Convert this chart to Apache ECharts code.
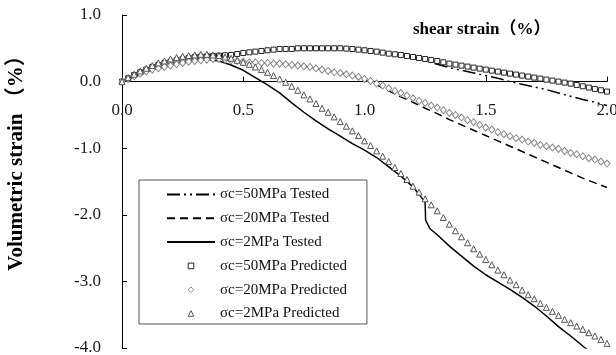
<!DOCTYPE html>
<html>
<head>
<meta charset="utf-8">
<script src="https://cdn.jsdelivr.net/npm/echarts@6/dist/echarts.min.js"></script>
<style>
html,body{margin:0;padding:0;background:#fff;}
#chart{width:616px;height:355px;}
</style>
</head>
<body>
<div id="chart"></div>
<script>
// ---- Data ----
const seriesNames = [
  'σc=50MPa Tested', 'σc=20MPa Tested', 'σc=2MPa Tested',
  'σc=50MPa Predicted', 'σc=20MPa Predicted', 'σc=2MPa Predicted'
];
const xTicks = [0, 0.5, 1.0, 1.5, 2.0];
const yTicks = [-4, -3, -2, -1, 0, 1];
const xName = 'shear strain（%）';
const yName = 'Volumetric strain （%）';

// Tested curves (shear strain %, volumetric strain %)
const xTested = [0, 0.05, 0.1, 0.15, 0.2, 0.25, 0.3, 0.35, 0.4, 0.45, 0.5, 0.55, 0.6, 0.65, 0.7, 0.75, 0.8, 0.85, 0.9, 0.95, 1.0,
  1.05, 1.1, 1.15, 1.2, 1.25, 1.3, 1.35, 1.4, 1.45, 1.5, 1.55, 1.6, 1.65, 1.7, 1.75, 1.8, 1.85, 1.9, 1.95, 2.0];
const tested50 = [0, 0.1, 0.18, 0.25, 0.3, 0.34, 0.37, 0.38, 0.39, 0.4, 0.43, 0.45, 0.47, 0.49, 0.49, 0.5, 0.5, 0.5, 0.5, 0.49, 0.47,
  0.45, 0.42, 0.39, 0.35, 0.31, 0.26, 0.21, 0.17, 0.13, 0.09, 0.05, 0.0, -0.04, -0.08, -0.12, -0.17, -0.22, -0.27, -0.31, -0.36];
const tested20 = [0, 0.08, 0.15, 0.2, 0.24, 0.28, 0.31, 0.33, 0.34, 0.32, 0.3, 0.29, 0.28, 0.27, 0.25, 0.23, 0.2, 0.16, 0.13, 0.09, 0.03,
  -0.05, -0.14, -0.23, -0.31, -0.4, -0.48, -0.57, -0.65, -0.73, -0.81, -0.89, -0.97, -1.05, -1.13, -1.21, -1.29, -1.37, -1.45, -1.52, -1.59];
const xTested2 = [0, 0.05, 0.1, 0.15, 0.2, 0.25, 0.3, 0.35, 0.4, 0.45, 0.5, 0.55, 0.6, 0.65, 0.7, 0.75, 0.8, 0.85, 0.9, 0.95, 1.0,
  1.05, 1.1, 1.15, 1.2, 1.25, 1.252, 1.27, 1.3, 1.35, 1.4, 1.45, 1.5, 1.55, 1.6, 1.65, 1.7, 1.75, 1.8, 1.85, 1.9, 1.92];
const tested2 = [0, 0.07, 0.14, 0.2, 0.25, 0.29, 0.32, 0.33, 0.31, 0.25, 0.17, 0.06, -0.05, -0.17, -0.32, -0.46, -0.59, -0.71, -0.82, -0.93, -1.03,
  -1.14, -1.28, -1.42, -1.58, -1.81, -2.08, -2.21, -2.3, -2.47, -2.62, -2.77, -2.9, -3.01, -3.12, -3.24, -3.37, -3.52, -3.68, -3.82, -3.97, -4.03];

// Predicted curves
const xPred = [0, 0.025, 0.05, 0.075, 0.1, 0.125, 0.15, 0.175, 0.2, 0.225, 0.25, 0.275, 0.3, 0.325, 0.35, 0.375, 0.4, 0.425, 0.45, 0.475,
  0.5, 0.525, 0.55, 0.575, 0.6, 0.625, 0.65, 0.675, 0.7, 0.725, 0.75, 0.775, 0.8, 0.825, 0.85, 0.875, 0.9, 0.925, 0.95, 0.975,
  1.0, 1.025, 1.05, 1.075, 1.1, 1.125, 1.15, 1.175, 1.2, 1.225, 1.25, 1.275, 1.3, 1.325, 1.35, 1.375, 1.4, 1.425, 1.45, 1.475,
  1.5, 1.525, 1.55, 1.575, 1.6, 1.625, 1.65, 1.675, 1.7, 1.725, 1.75, 1.775, 1.8, 1.825, 1.85, 1.875, 1.9, 1.925, 1.95, 1.975, 2.0];
const pred50 = [0, 0.05, 0.1, 0.14, 0.18, 0.22, 0.25, 0.28, 0.3, 0.32, 0.34, 0.355, 0.37, 0.375, 0.38, 0.385, 0.39, 0.395, 0.4, 0.415,
  0.43, 0.44, 0.45, 0.46, 0.47, 0.48, 0.49, 0.49, 0.49, 0.5, 0.5, 0.5, 0.5, 0.5, 0.5, 0.5, 0.5, 0.495, 0.49, 0.48,
  0.47, 0.46, 0.45, 0.435, 0.42, 0.41, 0.4, 0.385, 0.37, 0.355, 0.34, 0.325, 0.31, 0.29, 0.27, 0.255, 0.24, 0.225, 0.21, 0.195,
  0.18, 0.165, 0.15, 0.135, 0.12, 0.105, 0.09, 0.075, 0.06, 0.045, 0.03, 0.015, 0.0, -0.015, -0.03, -0.05, -0.07, -0.09, -0.11, -0.13, -0.15];
const pred20 = [0, 0.04, 0.08, 0.12, 0.15, 0.18, 0.2, 0.22, 0.24, 0.26, 0.28, 0.3, 0.31, 0.32, 0.33, 0.34, 0.34, 0.33, 0.32, 0.31,
  0.3, 0.29, 0.29, 0.28, 0.28, 0.27, 0.27, 0.26, 0.25, 0.24, 0.23, 0.22, 0.2, 0.18, 0.16, 0.14, 0.13, 0.11, 0.09, 0.07,
  0.04, 0.01, -0.03, -0.06, -0.1, -0.14, -0.17, -0.21, -0.25, -0.29, -0.32, -0.36, -0.39, -0.43, -0.47, -0.5, -0.54, -0.58, -0.61, -0.65,
  -0.69, -0.72, -0.76, -0.79, -0.82, -0.85, -0.87, -0.9, -0.92, -0.95, -0.97, -0.99, -1.01, -1.04, -1.07, -1.09, -1.12, -1.15, -1.17, -1.2, -1.23];
const pred2 = [0, 0.06, 0.11, 0.16, 0.2, 0.24, 0.28, 0.31, 0.34, 0.36, 0.38, 0.39, 0.4, 0.41, 0.41, 0.4, 0.39, 0.37, 0.35, 0.32,
  0.29, 0.26, 0.22, 0.18, 0.14, 0.09, 0.04, -0.01, -0.07, -0.13, -0.2, -0.26, -0.33, -0.4, -0.46, -0.53, -0.6, -0.67, -0.74, -0.81,
  -0.89, -0.96, -1.04, -1.12, -1.2, -1.29, -1.38, -1.47, -1.57, -1.66, -1.76, -1.85, -1.94, -2.04, -2.14, -2.24, -2.33, -2.42, -2.51, -2.59,
  -2.67, -2.75, -2.83, -2.9, -2.98, -3.05, -3.13, -3.2, -3.26, -3.33, -3.39, -3.45, -3.51, -3.57, -3.62, -3.67, -3.72, -3.77, -3.82, -3.87, -3.93];

// ---- Chart ----
const zip = (xs, ys) => xs.map((x, i) => [x, ys[i]]);
const SERIF = "'Liberation Serif', 'Times New Roman', 'Noto Sans CJK SC', serif";

const W = 616, H = 355;
const GRID = {left: 122, top: 15, right: 9, bottom: 7};
const yMin = yTicks[0], yMax = yTicks[yTicks.length - 1];
const plotH = H - GRID.top - GRID.bottom;
// shift the x axis up from the grid bottom to the y = 0 line
const xAxisOffset = -plotH * (0 - yMin) / (yMax - yMin);

const chart = echarts.init(document.getElementById('chart'), null, {renderer: 'canvas', width: W, height: H});

function testedSeries(name, xs, ys, type) {
  return {
    name, type: 'line', data: zip(xs, ys), symbol: 'none', showSymbol: false,
    lineStyle: {color: '#000', width: 1.5, type: type},
    itemStyle: {color: '#000'},
    smooth: false, z: 2, clip: true
  };
}
function predSeries(name, xs, ys, symbol, size, color) {
  return {
    name, type: 'line', data: zip(xs, ys), symbol: symbol, symbolSize: size,
    showSymbol: true, showAllSymbol: true,
    lineStyle: {opacity: 0, width: 0},
    itemStyle: {color: '#fff', borderColor: color, borderWidth: 1},
    z: 3, clip: true
  };
}

const option = {
  animation: false,
  backgroundColor: '#fff',
  grid: Object.assign({containLabel: false, outerBoundsMode: 'none'}, GRID),
  xAxis: {
    type: 'value', min: xTicks[0], max: xTicks[xTicks.length - 1], interval: 0.5,
    position: 'bottom', offset: xAxisOffset,
    axisLine: {onZero: false, lineStyle: {color: '#000', width: 1}},
    axisTick: {show: true, inside: true, length: 5, lineStyle: {color: '#000'}},
    axisLabel: {fontFamily: SERIF, fontSize: 17, color: '#1a1a1a', margin: 20,
      formatter: v => v.toFixed(1)},
    splitLine: {show: false}
  },
  yAxis: {
    type: 'value', min: yMin, max: yMax, interval: 1,
    name: yName, nameLocation: 'middle', nameGap: 95, nameRotate: 90,
    nameTextStyle: {fontFamily: SERIF, fontWeight: 'bold', fontSize: 21, color: '#000',
      padding: [0, 0, 0, 47]},
    axisLine: {onZero: false, lineStyle: {color: '#000', width: 1}},
    axisTick: {show: true, inside: true, length: 5, lineStyle: {color: '#000'}},
    axisLabel: {fontFamily: SERIF, fontSize: 17, color: '#1a1a1a', margin: 21,
      formatter: v => v.toFixed(1)},
    splitLine: {show: false}
  },
  graphic: [{
    type: 'text', left: 413, top: 21, z: 10,
    style: {text: xName, font: "bold 17px " + SERIF, fill: '#000'}
  }],
  legend: {
    orient: 'vertical', left: 139, top: 180,
    padding: [7, 20, 3, 27],
    itemWidth: 48, itemHeight: 7, itemGap: 8.8,
    backgroundColor: '#fff', borderColor: '#555', borderWidth: 1,
    itemStyle: {borderWidth: 1},
    textStyle: {fontFamily: SERIF, fontSize: 15, color: '#111'},
    data: [
      {name: seriesNames[0], itemStyle: {opacity: 0}},
      {name: seriesNames[1], itemStyle: {opacity: 0}},
      {name: seriesNames[2], itemStyle: {opacity: 0}},
      {name: seriesNames[3]},
      {name: seriesNames[4]},
      {name: seriesNames[5]}
    ]
  },
  series: [
    testedSeries(seriesNames[0], xTested, tested50, [13, 4, 2, 4, 2, 4]),
    testedSeries(seriesNames[1], xTested, tested20, [8, 5]),
    testedSeries(seriesNames[2], xTested2, tested2, 'solid'),
    predSeries(seriesNames[3], xPred, pred50, 'rect', 5, '#222'),
    predSeries(seriesNames[4], xPred, pred20, 'diamond', [6, 7], '#888'),
    predSeries(seriesNames[5], xPred, pred2, 'triangle', 6, '#555')
  ]
};
chart.setOption(option);
</script>
</body>
</html>
